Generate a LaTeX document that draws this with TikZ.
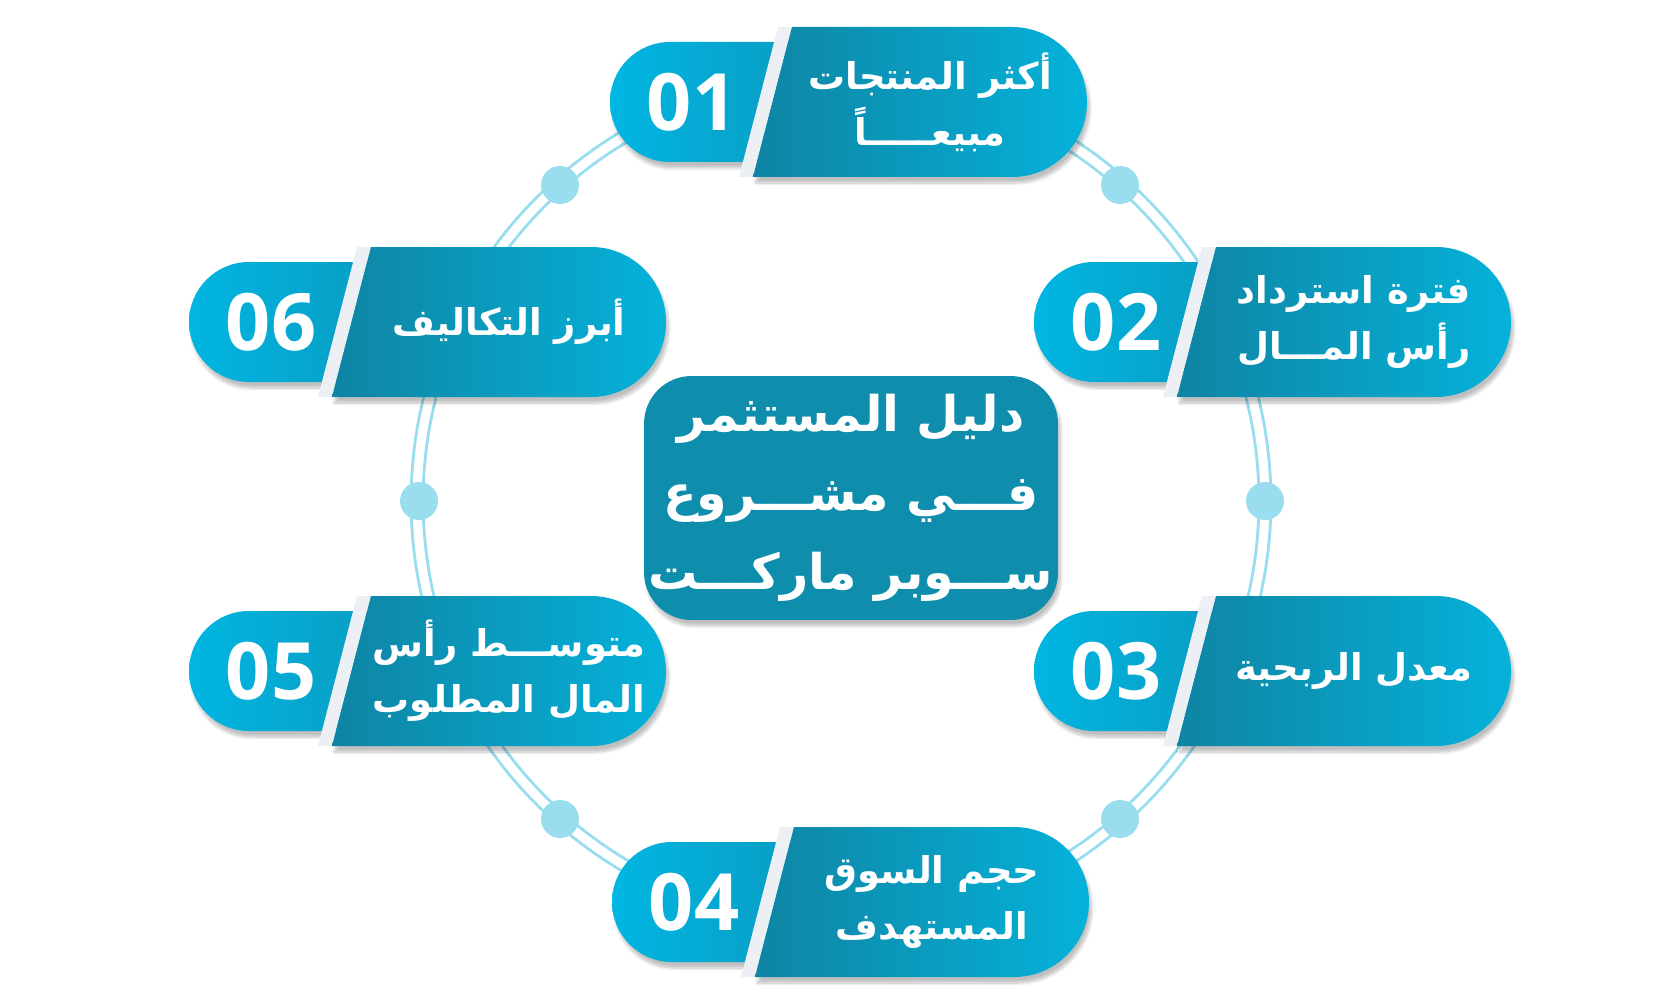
\documentclass[tikz,border=0pt]{standalone}
\usepackage{fontspec}
\TeXXeTstate=1
\newfontfamily\arabicfont[Script=Arabic]{DejaVu Sans}
\newfontfamily\numfont{Open Sans}
\usetikzlibrary{shadows.blur}
\definecolor{ring}{HTML}{9ADDEE}
\definecolor{pillA}{HTML}{00B6E2}
\definecolor{pillB}{HTML}{0A9BC0}
\definecolor{bigA}{HTML}{0F84A3}
\definecolor{bigB}{HTML}{05B2DA}
\definecolor{strip}{HTML}{ECEFF4}
\definecolor{core}{HTML}{0E8DAD}
\tikzset{
  itemtext/.style={text=white,font=\arabicfont\bfseries\fontsize{21}{32}\selectfont,align=center,inner sep=0pt},
  numtext/.style={text=white,font=\numfont\bfseries\fontsize{45}{45}\selectfont},
  dot/.style={circle,fill=ring,minimum size=0.76cm,inner sep=0pt},
  shad/.style={blur shadow={shadow xshift=0.05cm,shadow yshift=-0.12cm,shadow blur steps=8,shadow opacity=25}}
}
\newcommand\myitem[5]{% name, x0, yc, number, text
  \shade[left color=pillA,right color=pillB,shad] (#2,#3-60) [rounded corners=1.2cm] -- (#2,#3+60) -- (#2+200,#3+60)[sharp corners] -- (#2+200,#3-60) [rounded corners=1.2cm]-- cycle;
  \fill[strip] (#2+129,#3+75) -- (#2+168,#3-75) -- (#2+182,#3-75) -- (#2+143,#3+75) -- cycle;
  \shade[left color=bigA,right color=bigB,shad] (#2+143,#3+75) -- (#2+182,#3-75) [rounded corners=1.5cm]-- (#2+477,#3-75) -- (#2+477,#3+75) [sharp corners]-- cycle;
  \node[numtext] (#1n) at (#2+82,#3) {#4};
  \node[itemtext] (#1t) at (#2+320,#3) {#5};
}
\begin{document}
\begin{tikzpicture}[x=0.02cm,y=-0.02cm]
\useasboundingbox (0,0) rectangle (1675,1000);
\coordinate (c) at (841,501);
\draw[ring,line width=1.6pt] (c) circle (8.36cm);
\draw[ring,line width=1.6pt] (c) circle (8.6cm);
\foreach \p/\n in {{(560,185)}/d1,{(1120,185)}/d2,{(419,501)}/d3,{(1265,501)}/d4,{(560,819)}/d5,{(1120,819)}/d6}
  \node[dot] (\n) at \p {};
\myitem{i1}{610}{102}{01}{\beginR أكثر المنتجات\endR\\\beginR مبيعـــــاً\endR}
\myitem{i2}{1034}{322}{02}{\beginR فترة استرداد\endR\\\beginR رأس المـــال\endR}
\myitem{i3}{1034}{671}{03}{\beginR معدل الربحية\endR}
\myitem{i4}{612}{902}{04}{\beginR حجم السوق\endR\\\beginR المستهدف\endR}
\myitem{i5}{189}{671}{05}{\beginR متوســـط رأس\endR\\\beginR المال المطلوب\endR}
\myitem{i6}{189}{322}{06}{\beginR أبرز التكاليف\endR}
\node[fill=core,rounded corners=0.95cm,minimum width=8.28cm,minimum height=4.88cm,shad] (box) at (851,498) {};
\node[text=white,font=\arabicfont\bfseries\fontsize{28}{45}\selectfont,align=center,inner sep=0pt] (center) at (box)
  {\beginR دليل المستثمر\endR\\\beginR فـــي مشـــروع\endR\\\beginR ســـوبر ماركـــت\endR};
\end{tikzpicture}
\end{document}
